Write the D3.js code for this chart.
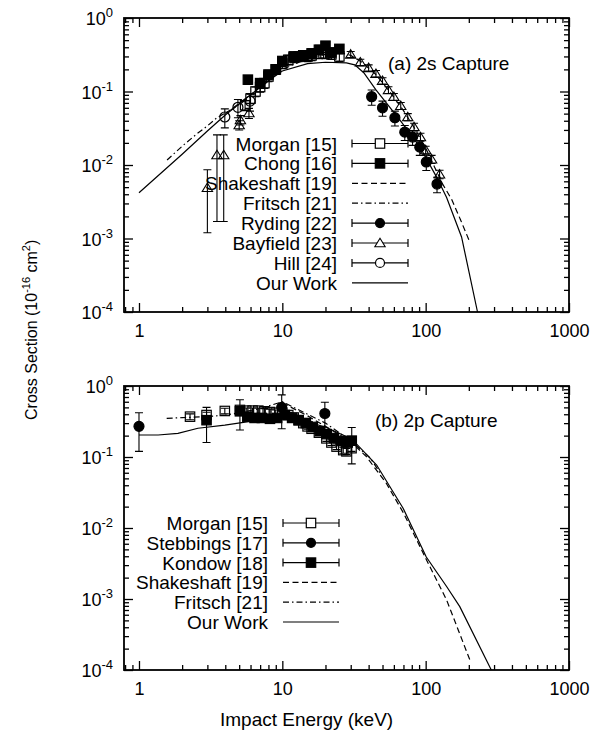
<html>
<head><meta charset="utf-8"></head>
<body style="margin:0; background:#fff">
<svg id="mainSvg" width="608" height="732"></svg>
<script src="https://d3js.org/d3.v7.min.js"></script>
<script>
// axis ticks
const xTicks = [1, 10, 100, 1000]
const yTicks = [1e-4, 1e-3, 1e-2, 1e-1, 1]
const yTickExp = ['-4', '-3', '-2', '-1', '0']

// ---- (a) 2s capture ----
const morganA_E = [5.5, 6, 6.5, 7, 7.5, 8, 9, 10, 11, 12, 13, 14, 15, 16, 18, 20, 22, 25]
const morganA_s = [0.065, 0.08, 0.1, 0.115, 0.13, 0.16, 0.2, 0.24, 0.27, 0.29, 0.3, 0.31, 0.3, 0.31, 0.33, 0.33, 0.32, 0.3]
const morganA_err = [0.01, 0.012, 0.015, 0.017, 0.02, 0.024, 0.03, 0.036, 0.04, 0.044, 0.045, 0.047, 0.045, 0.047, 0.05, 0.05, 0.048, 0.045]
const chongA_E = [5.75, 7, 8, 9, 10, 12, 14, 16, 18, 20, 22, 25]
const chongA_s = [0.145, 0.13, 0.17, 0.2, 0.26, 0.3, 0.31, 0.33, 0.37, 0.42, 0.34, 0.38]
const chongA_err = [0.02, 0.02, 0.025, 0.03, 0.04, 0.045, 0.045, 0.05, 0.055, 0.06, 0.05, 0.055]
const rydingA_E = [42, 50, 61, 71.5, 81, 91, 101, 120]
const rydingA_s = [0.085, 0.06, 0.044, 0.028, 0.024, 0.0175, 0.011, 0.0055]
const rydingA_err = [0.02, 0.014, 0.01, 0.0065, 0.0055, 0.004, 0.0026, 0.0013]
const bayfieldA_E = [3.0, 3.5, 3.9, 5.0, 5.1, 5.85, 30, 35, 40, 45, 50, 55, 60, 67, 75, 83, 92, 100, 110, 125]
const bayfieldA_s = [0.0049, 0.0137, 0.0137, 0.035, 0.041, 0.051, 0.32, 0.25, 0.21, 0.175, 0.14, 0.105, 0.085, 0.064, 0.045, 0.033, 0.024, 0.016, 0.012, 0.0075]
const bayfieldA_err = [0.0037, 0.012, 0.012, 0.005, 0.006, 0.008, 0.03, 0.025, 0.02, 0.018, 0.014, 0.011, 0.009, 0.007, 0.005, 0.004, 0.003, 0.002, 0.0015, 0.001]
const hillA_E = [3.97, 4.9, 5.95]
const hillA_s = [0.045, 0.061, 0.074]
const hillA_err = [0.013, 0.017, 0.02]
const shakA_E = [4, 6, 8, 10, 15, 20, 25, 30, 36, 45, 56, 70, 85, 100, 115, 132, 152, 175, 203]
const shakA_s = [0.05, 0.09, 0.15, 0.21, 0.3, 0.34, 0.34, 0.31, 0.25, 0.17, 0.1, 0.055, 0.03, 0.017, 0.0095, 0.0054, 0.0034, 0.0018, 0.0009]
const fritA_E = [1.57, 2, 2.5, 3, 3.5, 4.5, 6, 8, 10, 15, 20]
const fritA_s = [0.0117, 0.018, 0.026, 0.034, 0.044, 0.058, 0.085, 0.14, 0.2, 0.28, 0.32]
const ourA_E = [1, 2, 3, 4, 6, 8, 10, 15, 20, 28, 32, 37, 45, 66, 91, 119, 140, 178, 230]
const ourA_s = [0.0042, 0.014, 0.029, 0.048, 0.09, 0.14, 0.19, 0.24, 0.25, 0.245, 0.23, 0.18, 0.105, 0.041, 0.0177, 0.0069, 0.0036, 0.00105, 0.0001]
const legendA = ['Morgan [15]', 'Chong [16]', 'Shakeshaft [19]', 'Fritsch [21]', 'Ryding [22]', 'Bayfield [23]', 'Hill [24]', 'Our Work']

// ---- (b) 2p capture ----
const morganB_E = [2.27, 2.96, 3.97, 5.06, 5.6, 6.2, 6.8, 7.5, 8.2, 9, 10, 11, 12, 13, 14, 15, 16, 18, 20.3, 22, 23.9, 26.6, 28, 30.4]
const morganB_s = [0.37, 0.39, 0.445, 0.46, 0.45, 0.45, 0.45, 0.44, 0.43, 0.42, 0.42, 0.39, 0.36, 0.33, 0.3, 0.27, 0.25, 0.22, 0.183, 0.16, 0.14, 0.125, 0.12, 0.133]
const morganB_err = [0.035, 0.037, 0.04, 0.04, 0.04, 0.04, 0.04, 0.04, 0.04, 0.04, 0.04, 0.035, 0.032, 0.03, 0.027, 0.024, 0.022, 0.02, 0.017, 0.015, 0.013, 0.012, 0.012, 0.013]
const stebB_E = [1, 9.9, 19.8]
const stebB_s = [0.27, 0.5, 0.41]
const stebB_err = [0.15, 0.25, 0.18]
const kondowB_E = [2.96, 5.06, 5.7, 6.4, 7.2, 8.2, 9.2, 10.4, 11.7, 13, 14.6, 16.3, 18.3, 20.4, 22.9, 25.6, 28.6, 30.5]
const kondowB_s = [0.33, 0.44, 0.37, 0.355, 0.355, 0.345, 0.355, 0.39, 0.355, 0.33, 0.3, 0.265, 0.232, 0.21, 0.185, 0.168, 0.16, 0.17]
const kondowB_err = [0.17, 0.2, 0.035, 0.035, 0.035, 0.035, 0.035, 0.04, 0.035, 0.033, 0.03, 0.027, 0.023, 0.021, 0.019, 0.017, 0.016, 0.09]
const shakB_E = [10, 15, 20, 30, 38.6, 53, 70, 101, 140, 203]
const shakB_s = [0.58, 0.38, 0.27, 0.165, 0.101, 0.043, 0.0163, 0.0036, 0.00097, 0.00014]
const fritB_E = [1.56, 2, 3, 4, 5, 7, 10, 12, 15, 20, 30, 41, 48]
const fritB_s = [0.35, 0.358, 0.37, 0.39, 0.42, 0.48, 0.6, 0.5, 0.4, 0.3, 0.17, 0.097, 0.06]
const ourB_E = [1, 1.36, 1.87, 2.58, 3.97, 5.5, 7, 9.6, 13.2, 20.3, 30.5, 45.5, 69.6, 101, 140, 173, 287]
const ourB_s = [0.204, 0.204, 0.215, 0.254, 0.282, 0.31, 0.33, 0.36, 0.34, 0.26, 0.18, 0.077, 0.019, 0.0039, 0.0015, 0.00078, 0.0001]
const legendB = ['Morgan [15]', 'Stebbings [17]', 'Kondow [18]', 'Shakeshaft [19]', 'Fritsch [21]', 'Our Work']

const svg = d3.select('#mainSvg')
const font = "'Liberation Sans', Arial, Helvetica, sans-serif"
svg.attr('font-family', font)

const left = 124, right = 569
const xScale = d3.scaleLog().domain([0.786, 1000]).range([left, right])
const yScaleA = d3.scaleLog().domain([1e-4, 1]).range([312, 18])
const yScaleB = d3.scaleLog().domain([1e-4, 1]).range([670, 386])

const xMinor = [], yMinor = []
for (let p = -1; p < 3; p++) for (let k = 2; k <= 9; k++) if (k * 10 ** p >= 0.786) xMinor.push(k * 10 ** p)
for (let p = -4; p < 0; p++) for (let k = 2; k <= 9; k++) yMinor.push(k * 10 ** p)

const dashes = { solid: null, dash: '6,3.5', dashdot: '6,3,1.5,3' }

// open markers are see-through on the plot, white in the key
function marker(g, type, cx, cy, r, openFill) {
    const open = type === 'osq' || type === 'oci' || type === 'otri'
    const fill = open ? (openFill || 'none') : '#000'
    if (type === 'osq' || type === 'fsq') {
        g.append('rect').attr('x', cx - r).attr('y', cy - r).attr('width', 2 * r).attr('height', 2 * r)
            .attr('fill', fill).attr('stroke', '#000').attr('stroke-width', 1.2)
    } else if (type === 'oci' || type === 'fci') {
        g.append('circle').attr('cx', cx).attr('cy', cy).attr('r', r)
            .attr('fill', fill).attr('stroke', '#000').attr('stroke-width', 1.2)
    } else {
        g.append('path').attr('d', `M${cx},${cy - r}L${cx + r * 1.1},${cy + r * 0.8}L${cx - r * 1.1},${cy + r * 0.8}Z`)
            .attr('fill', fill).attr('stroke', '#000').attr('stroke-width', 1.1)
    }
}

function panel(yScale, points, lines, legendItems, leg, title) {
    const top = yScale(1), bottom = yScale(1e-4)
    const g = svg.append('g')

    // curves
    lines.forEach(l => {
        const line = d3.line().x(i => xScale(l.E[i])).y(i => yScale(l.s[i]))
        g.append('path').attr('d', line(d3.range(l.E.length)))
            .attr('fill', 'none').attr('stroke', '#000').attr('stroke-width', 1.2)
            .attr('stroke-dasharray', dashes[l.style])
    })

    // data with error bars
    points.forEach(p => {
        p.E.forEach((e, i) => {
            const cx = xScale(e), cy = yScale(p.s[i])
            const y1 = yScale(Math.max(p.s[i] - p.err[i], 1e-5)), y2 = yScale(p.s[i] + p.err[i])
            g.append('path').attr('d', `M${cx},${y1}V${y2}M${cx - 4},${y1}H${cx + 4}M${cx - 4},${y2}H${cx + 4}`)
                .attr('stroke', '#000').attr('stroke-width', 1.1).attr('fill', 'none')
            marker(g, p.mark, cx, cy, p.mark === 'fci' || p.mark === 'oci' ? 5 : 4.7)
        })
    })

    // frame and ticks
    const addAxis = (axis, tx, ty) => g.append('g').attr('transform', `translate(${tx},${ty})`)
        .call(axis).call(a => a.select('.domain').remove())
        .selectAll('line').attr('stroke-width', 1.3)
    addAxis(d3.axisBottom(xScale).tickValues(xTicks).tickSize(-9).tickFormat(''), 0, bottom)
    addAxis(d3.axisBottom(xScale).tickValues(xMinor).tickSize(-5).tickFormat(''), 0, bottom)
    addAxis(d3.axisTop(xScale).tickValues(xTicks).tickSize(-9).tickFormat(''), 0, top)
    addAxis(d3.axisTop(xScale).tickValues(xMinor).tickSize(-5).tickFormat(''), 0, top)
    addAxis(d3.axisLeft(yScale).tickValues(yTicks).tickSize(-9).tickFormat(''), left, 0)
    addAxis(d3.axisLeft(yScale).tickValues(yMinor).tickSize(-5).tickFormat(''), left, 0)
    addAxis(d3.axisRight(yScale).tickValues(yTicks).tickSize(-9).tickFormat(''), right, 0)
    addAxis(d3.axisRight(yScale).tickValues(yMinor).tickSize(-5).tickFormat(''), right, 0)
    g.append('rect').attr('x', left).attr('y', top).attr('width', right - left).attr('height', bottom - top)
        .attr('fill', 'none').attr('stroke', '#000').attr('stroke-width', 1.8)

    // tick labels
    g.append('g').attr('transform', `translate(0,${bottom})`)
        .call(d3.axisBottom(xScale).tickValues(xTicks).tickSize(0).tickPadding(12).tickFormat(d3.format('d')))
        .call(a => a.select('.domain').remove())
        .attr('font-size', 18).attr('font-family', font)
    yTicks.forEach((v, i) => {
        const t = g.append('text').attr('x', 113).attr('y', yScale(v) + 7).attr('text-anchor', 'end').attr('font-size', 18)
        t.append('tspan').text('10')
        t.append('tspan').attr('dy', -8).attr('font-size', 13).text(yTickExp[i])
    })

    // legend
    legendItems.forEach((it, i) => {
        const y = leg.y + i * leg.dy
        g.append('text').attr('x', leg.textRight).attr('y', y + 7).attr('text-anchor', 'end')
            .attr('font-size', 19).text(it.name)
        if (it.mark) {
            g.append('path').attr('d', `M${leg.x1},${y}H${leg.x2}M${leg.x1},${y - 4}V${y + 4}M${leg.x2},${y - 4}V${y + 4}`)
                .attr('stroke', '#000').attr('stroke-width', 1.2)
            const r = it.mark === 'fci' || it.mark === 'oci' ? 4.5 : 4.7
            marker(g, it.mark, (leg.x1 + leg.x2) / 2, y, r, '#fff')
        } else {
            g.append('path').attr('d', `M${leg.x1},${y}H${leg.x2}`).attr('stroke', '#000').attr('stroke-width', 1.2)
                .attr('stroke-dasharray', dashes[it.style])
        }
    })

    g.append('text').attr('x', title.x).attr('y', title.y).attr('font-size', 19).text(title.text)
}

panel(yScaleA,
    [
        { E: morganA_E, s: morganA_s, err: morganA_err, mark: 'osq' },
        { E: chongA_E, s: chongA_s, err: chongA_err, mark: 'fsq' },
        { E: rydingA_E, s: rydingA_s, err: rydingA_err, mark: 'fci' },
        { E: bayfieldA_E, s: bayfieldA_s, err: bayfieldA_err, mark: 'otri' },
        { E: hillA_E, s: hillA_s, err: hillA_err, mark: 'oci' }
    ],
    [
        { E: shakA_E, s: shakA_s, style: 'dash' },
        { E: fritA_E, s: fritA_s, style: 'dashdot' },
        { E: ourA_E, s: ourA_s, style: 'solid' }
    ],
    [
        { name: legendA[0], mark: 'osq' }, { name: legendA[1], mark: 'fsq' },
        { name: legendA[2], style: 'dash' }, { name: legendA[3], style: 'dashdot' },
        { name: legendA[4], mark: 'fci' }, { name: legendA[5], mark: 'otri' },
        { name: legendA[6], mark: 'oci' }, { name: legendA[7], style: 'solid' }
    ],
    { textRight: 337, x1: 352, x2: 408, y: 143.5, dy: 19.9 },
    { x: 388, y: 70, text: '(a) 2s Capture' })

panel(yScaleB,
    [
        { E: morganB_E, s: morganB_s, err: morganB_err, mark: 'osq' },
        { E: kondowB_E, s: kondowB_s, err: kondowB_err, mark: 'fsq' },
        { E: stebB_E, s: stebB_s, err: stebB_err, mark: 'fci' }
    ],
    [
        { E: shakB_E, s: shakB_s, style: 'dash' },
        { E: fritB_E, s: fritB_s, style: 'dashdot' },
        { E: ourB_E, s: ourB_s, style: 'solid' }
    ],
    [
        { name: legendB[0], mark: 'osq' }, { name: legendB[1], mark: 'fci' },
        { name: legendB[2], mark: 'fsq' }, { name: legendB[3], style: 'dash' },
        { name: legendB[4], style: 'dashdot' }, { name: legendB[5], style: 'solid' }
    ],
    { textRight: 268, x1: 283, x2: 339, y: 523, dy: 19.8 },
    { x: 375, y: 427, text: '(b) 2p Capture' })

// axis titles
const yl = svg.append('text').attr('transform', 'translate(37,420) rotate(-90)').attr('font-size', 16)
yl.append('tspan').text('Cross Section (10')
yl.append('tspan').attr('dy', -7).attr('font-size', 11).text('-16')
yl.append('tspan').attr('dy', 7).text(' cm')
yl.append('tspan').attr('dy', -7).attr('font-size', 11).text('2')
yl.append('tspan').attr('dy', 7).text(')')

svg.append('text').attr('x', 220).attr('y', 726).attr('font-size', 19).text('Impact Energy (keV)')
</script>
</body>
</html>
